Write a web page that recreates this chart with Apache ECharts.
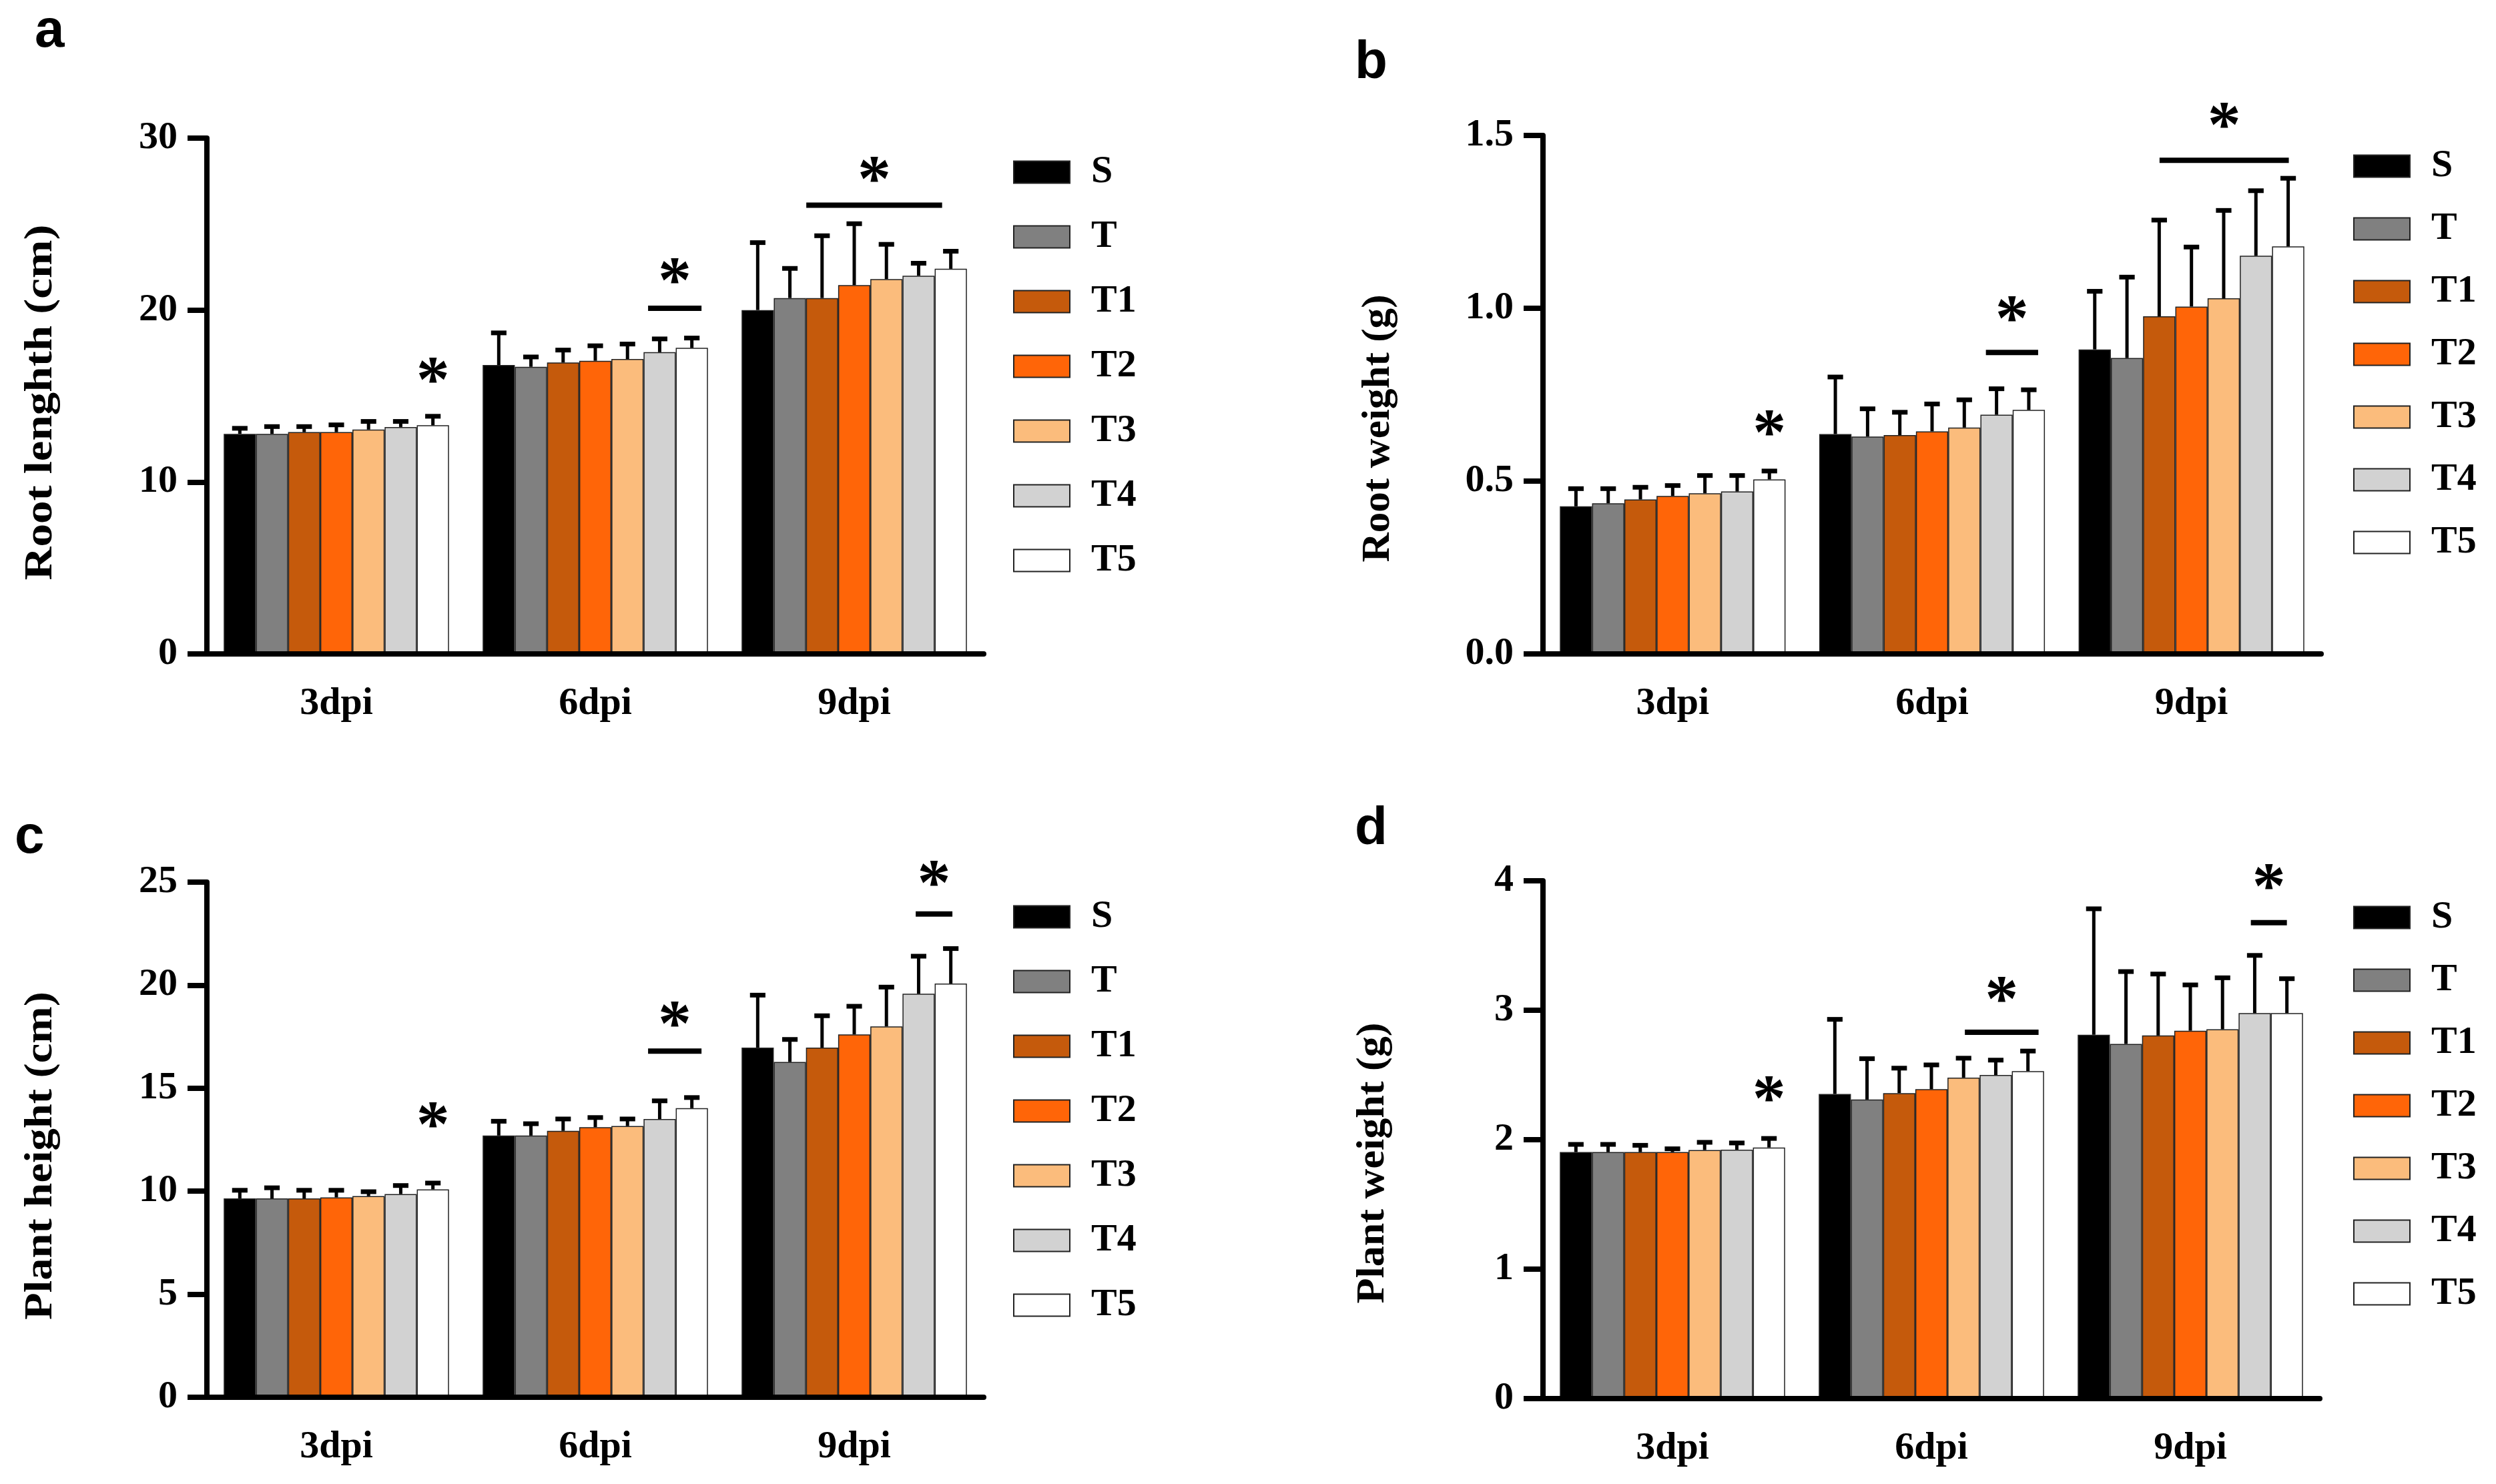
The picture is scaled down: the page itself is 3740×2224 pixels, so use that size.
<!DOCTYPE html>
<html>
<head>
<meta charset="utf-8">
<script src="https://cdn.jsdelivr.net/npm/echarts@6/dist/echarts.min.js"></script>
<style>
html, body { margin: 0; padding: 0; background: #fff; }
#wrap { position: relative; width: 3740px; height: 2224px; }
.panel { position: absolute; width: 1870px; height: 1112px; }
</style>
</head>
<body>
<div id="wrap">
	<div class="panel" id="pa" style="left:0;top:0"></div>
	<div class="panel" id="pb" style="left:1870px;top:0"></div>
	<div class="panel" id="pc" style="left:0;top:1112px"></div>
	<div class="panel" id="pd" style="left:1870px;top:1112px"></div>
</div>
<script>
// categories and groups
var days = ['3dpi', '6dpi', '9dpi'];
var groups = ['S', 'T', 'T1', 'T2', 'T3', 'T4', 'T5'];

// a: root length (cm), mean per group over days, and SD
var rootLenMean = [
	[12.8, 16.8, 20.0],
	[12.8, 16.7, 20.7],
	[12.9, 16.95, 20.7],
	[12.9, 17.05, 21.45],
	[13.05, 17.15, 21.8],
	[13.2, 17.55, 22.0],
	[13.3, 17.8, 22.4]
];
var rootLenSd = [
	[0.4, 1.95, 4.0],
	[0.5, 0.65, 1.8],
	[0.4, 0.8, 3.7],
	[0.5, 0.95, 3.65],
	[0.55, 0.95, 2.1],
	[0.4, 0.85, 0.8],
	[0.6, 0.65, 1.1]
];
// b: root weight (g)
var rootWtMean = [
	[0.427, 0.636, 0.881],
	[0.436, 0.629, 0.856],
	[0.447, 0.633, 0.977],
	[0.457, 0.644, 1.005],
	[0.465, 0.655, 1.029],
	[0.47, 0.692, 1.152],
	[0.505, 0.706, 1.179]
];
var rootWtSd = [
	[0.055, 0.169, 0.172],
	[0.046, 0.084, 0.238],
	[0.039, 0.07, 0.282],
	[0.034, 0.083, 0.176],
	[0.055, 0.084, 0.258],
	[0.05, 0.079, 0.192],
	[0.028, 0.062, 0.201]
];
// c: plant height (cm)
var plantHtMean = [
	[9.65, 12.7, 16.97],
	[9.65, 12.7, 16.27],
	[9.65, 12.93, 16.97],
	[9.7, 13.11, 17.61],
	[9.76, 13.16, 18.0],
	[9.86, 13.5, 19.58],
	[10.09, 14.03, 20.08]
];
var plantHtSd = [
	[0.46, 0.76, 2.61],
	[0.58, 0.64, 1.16],
	[0.46, 0.64, 1.61],
	[0.41, 0.53, 1.43],
	[0.28, 0.41, 1.97],
	[0.48, 0.95, 1.89],
	[0.37, 0.58, 1.76]
];
// d: plant weight (g)
var plantWtMean = [
	[1.904, 2.353, 2.81],
	[1.904, 2.31, 2.74],
	[1.904, 2.36, 2.805],
	[1.904, 2.39, 2.842],
	[1.92, 2.48, 2.853],
	[1.923, 2.5, 2.978],
	[1.94, 2.53, 2.978]
];
var plantWtSd = [
	[0.07, 0.587, 0.984],
	[0.07, 0.326, 0.569],
	[0.063, 0.203, 0.485],
	[0.036, 0.198, 0.364],
	[0.07, 0.16, 0.408],
	[0.062, 0.125, 0.456],
	[0.08, 0.165, 0.276]
];

// significance marks: [day index, first bar, last bar, line value, star value]
// (first == last means star only)
var rootLenSig = [[0, 6, 6, 16.2, 16.2], [1, 4.64, 6.3, 20.1, 22.0], [2, 1.51, 5.73, 26.1, 27.9]];
var rootWtSig = [[0, 6, 6, 0.654, 0.654], [1, 4.67, 6.29, 0.872, 0.984], [2, 2.01, 6.02, 1.428, 1.544]];
var plantHtSig = [[0, 6, 6, 13.46, 13.46], [1, 4.64, 6.3, 16.8, 18.35], [2, 4.91, 6.05, 23.45, 25.2]];
var plantWtSig = [[0, 6, 6, 2.353, 2.353], [1, 4.04, 6.33, 2.83, 3.125], [2, 4.88, 6.0, 3.676, 3.996]];

var colors = ['#000000', '#808080', '#C55A0C', '#FF6508', '#FBBC7C', '#D2D2D2', '#FFFFFF'];

var SERIF = '"Liberation Serif", "Times New Roman", serif';
var CAT_GAP = 0.13; // share of a category left empty
var STAR_SIZE = 100;

// x position of bar i inside its category
function barX(api, cat, i) {
	var c = api.coord([cat, 0]);
	var band = api.size([1, 0])[0];
	var grp = band * (1 - CAT_GAP);
	var bw = grp / groups.length;
	return { x: c[0] - grp / 2 + bw * (i + 0.5), w: bw };
}

function makePanel(id, cfg) {
	var chart = echarts.init(document.getElementById(id));
	var series = [];
	for (var i = 0; i < groups.length; i++) {
		series.push({
			name: groups[i],
			type: 'bar',
			barGap: '0%',
			barCategoryGap: (CAT_GAP * 100) + '%',
			data: cfg.mean[i],
			itemStyle: { color: colors[i], borderColor: '#222', borderWidth: 1.5 },
			z: 2
		});
	}
	// error bars (upper half only)
	for (var i = 0; i < groups.length; i++) {
		var ed = [];
		for (var k = 0; k < days.length; k++) {
			ed.push([k, cfg.mean[i][k], cfg.mean[i][k] + cfg.sd[i][k]]);
		}
		series.push({
			name: 'err' + groups[i],
			type: 'custom',
			data: ed,
			encode: { x: 0, y: [1, 2] },
			z: 5,
			renderItem: (function(gi) {
				return function(params, api) {
					var b = barX(api, api.value(0), gi);
					var y0 = api.coord([api.value(0), api.value(1)])[1];
					var y1 = api.coord([api.value(0), api.value(2)])[1];
					var cap = b.w * 0.48;
					return {
						type: 'group',
						children: [{
							type: 'line',
							shape: { x1: b.x, y1: y0, x2: b.x, y2: y1 },
							style: { stroke: '#000', lineWidth: 5 }
						}, {
							type: 'line',
							shape: { x1: b.x - cap / 2, y1: y1 + 2, x2: b.x + cap / 2, y2: y1 + 2 },
							style: { stroke: '#000', lineWidth: 7 }
						}]
					};
				};
			})(i)
		});
	}
	// significance lines and stars
	series.push({
		name: 'sig',
		type: 'custom',
		data: cfg.sig,
		encode: { x: 0, y: 3 },
		z: 6,
		renderItem: function(params, api) {
			var cat = api.value(0);
			var a = barX(api, cat, api.value(1));
			var b = barX(api, cat, api.value(2));
			var ly = api.coord([cat, api.value(3)])[1];
			var sy = api.coord([cat, api.value(4)])[1];
			var kids = [];
			if (api.value(2) > api.value(1)) {
				kids.push({
					type: 'line',
					shape: { x1: a.x, y1: ly, x2: b.x, y2: ly },
					style: { stroke: '#000', lineWidth: 8 }
				});
			}
			kids.push({
				type: 'text',
				x: (a.x + b.x) / 2,
				y: sy + STAR_SIZE * 0.13,
				style: {
					text: '*', fill: '#000', font: 'bold ' + STAR_SIZE + 'px ' + SERIF,
					align: 'center', verticalAlign: 'middle'
				}
			});
			return { type: 'group', children: kids };
		}
	});

	chart.setOption({
		animation: false,
		backgroundColor: '#fff',
		graphic: [{
			type: 'text',
			left: cfg.letterX,
			top: cfg.letterY,
			style: { text: cfg.letter, fill: '#000', font: 'bold 80px "Liberation Sans", Arial, sans-serif' }
		}, {
			// y axis title, a little wider than plain text as in the figure
			type: 'text',
			x: cfg.titleX,
			y: cfg.titleY,
			rotation: Math.PI / 2,
			scaleX: cfg.titleStretch,
			style: {
				text: cfg.title, fill: '#000', font: 'bold 60px ' + SERIF,
				align: 'center', verticalAlign: 'middle'
			}
		}],
		legend: {
			data: groups,
			orient: 'vertical',
			left: cfg.legendLeft,
			top: cfg.legendTop,
			padding: 0,
			itemWidth: 84,
			itemHeight: 33,
			itemGap: cfg.legendGap,
			icon: 'rect',
			selectedMode: false,
			textStyle: {
				fontFamily: SERIF, fontWeight: 'bold', fontSize: 58, color: '#000',
				lineHeight: 33, padding: [0, 0, 0, 27]
			}
		},
		grid: { left: cfg.left, right: cfg.right, top: cfg.top, bottom: cfg.bottom },
		xAxis: {
			type: 'category',
			data: days,
			z: 10,
			axisLine: { lineStyle: { color: '#000', width: 8 } },
			axisTick: { alignWithLabel: true, length: 32, lineStyle: { color: '#000', width: 8 } },
			axisLabel: { fontFamily: SERIF, fontWeight: 'bold', fontSize: 58, color: '#000', margin: 46 }
		},
		yAxis: {
			type: 'value',
			min: 0,
			max: cfg.max,
			interval: cfg.interval,
			z: 10,
			splitLine: { show: false },
			axisLine: { show: true, lineStyle: { color: '#000', width: 8 } },
			axisTick: { show: true, length: 29, lineStyle: { color: '#000', width: 8 } },
			axisLabel: {
				fontFamily: SERIF, fontWeight: 'bold', fontSize: 58, color: '#000', margin: 44,
				formatter: cfg.fmt
			}
		},
		series: series
	});
	return chart;
}

makePanel('pa', {
	letter: 'a', letterX: 52, letterY: 8,
	mean: rootLenMean, sd: rootLenSd, sig: rootLenSig,
	title: 'Root lenghth (cm)', titleX: 61, titleY: 603, titleStretch: 1.15,
	max: 30, interval: 10,
	left: 310, right: 396, top: 207, bottom: 132,
	legendLeft: 1518, legendTop: 229, legendGap: 39
});
makePanel('pb', {
	letter: 'b', letterX: 160, letterY: 55,
	mean: rootWtMean, sd: rootWtSd, sig: rootWtSig,
	title: 'Root weight (g)', titleX: 195, titleY: 642, titleStretch: 1.02,
	max: 1.5, interval: 0.5,
	fmt: function(v) { return v.toFixed(1); },
	left: 442, right: 262, top: 203, bottom: 132,
	legendLeft: 1656, legendTop: 220, legendGap: 36
});
makePanel('pc', {
	letter: 'c', letterX: 22, letterY: 104,
	mean: plantHtMean, sd: plantHtSd, sig: plantHtSig,
	title: 'Plant height (cm)', titleX: 61, titleY: 620, titleStretch: 1.11,
	max: 25, interval: 5,
	left: 310, right: 396, top: 210, bottom: 130,
	legendLeft: 1518, legendTop: 233, legendGap: 39
});
makePanel('pd', {
	letter: 'd', letterX: 160, letterY: 91,
	mean: plantWtMean, sd: plantWtSd, sig: plantWtSig,
	title: 'Plant weight (g)', titleX: 187, titleY: 631, titleStretch: 1.035,
	max: 4, interval: 1,
	left: 442, right: 264, top: 208, bottom: 128,
	legendLeft: 1656, legendTop: 234, legendGap: 36
});
</script>
</body>
</html>
